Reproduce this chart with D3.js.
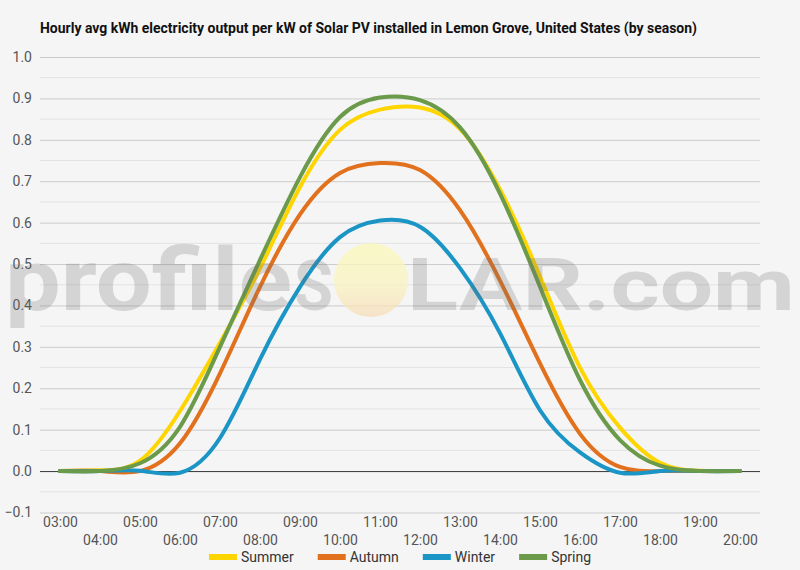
<!DOCTYPE html>
<html>
<head>
<meta charset="utf-8">
<script src="https://cdn.jsdelivr.net/npm/d3@7"></script>
<style>
  body { margin: 0; background: #f5f5f5; }
  svg { display: block; font-family: Roboto, "Noto Sans", sans-serif; }
</style>
</head>
<body>
<svg id="chart" width="800" height="570"></svg>
<script>
// hourly values
const hours = ['03:00', '04:00', '05:00', '06:00', '07:00', '08:00', '09:00', '10:00', '11:00',
  '12:00', '13:00', '14:00', '15:00', '16:00', '17:00', '18:00', '19:00', '20:00'];
const summer = [0, 0.002, 0.025, 0.145, 0.31, 0.49, 0.686, 0.824, 0.873, 0.878, 0.826, 0.68, 0.47, 0.25, 0.105, 0.02, 0.001, 0];
const autumn = [0, 0, 0, 0.067, 0.236, 0.445, 0.62, 0.72, 0.744, 0.727, 0.63, 0.46, 0.26, 0.09, 0.01, 0, 0, 0];
const winter = [0, 0, 0.001, -0.004, 0.08, 0.27, 0.445, 0.565, 0.605, 0.59, 0.49, 0.333, 0.147, 0.045, -0.004, 0, 0, 0];
const spring = [0, 0, 0.019, 0.107, 0.30, 0.51, 0.71, 0.855, 0.902, 0.896, 0.83, 0.67, 0.445, 0.22, 0.075, 0.013, 0, 0];
const series_names = ['Summer', 'Autumn', 'Winter', 'Spring'];
const series_colors = ['#ffd500', '#e2711d', '#1a95c6', '#6b9a4a'];
const y_ticks = [-0.1, 0, 0.1, 0.2, 0.3, 0.4, 0.5, 0.6, 0.7, 0.8, 0.9, 1.0];
const title = 'Hourly avg kWh electricity output per kW of Solar PV installed in Lemon Grove, United States (by season)';

const series_all = [summer, autumn, winter, spring];

let svg = d3.select('#chart');

svg.append('rect')
  .attr('width', 800).attr('height', 570)
  .style('fill', '#f5f5f5');

let x = d3.scalePoint().domain(hours).range([40, 760]).padding(0.5);
let y = d3.scaleLinear().domain([-0.1, 1.0]).range([512.5, 57]);

/*
 * Grid: major every 0.1, minor in between.
 */
let minor = y_ticks.slice(0, -1).map(v => v + 0.05);
svg.append('g')
  .selectAll('line')
  .data(minor)
  .join('line')
  .attr('x1', 40).attr('x2', 760)
  .attr('y1', d => y(d)).attr('y2', d => y(d))
  .style('stroke', '#e3e3e3')
  .style('stroke-width', 1);

let y_axis = svg.append('g')
  .attr('transform', 'translate(40,0)')
  .call(d3.axisLeft(y).tickValues(y_ticks).tickSize(-720).tickPadding(8)
    .tickFormat(d3.format('.1f')));
y_axis.select('.domain').remove();
y_axis.selectAll('.tick line')
  .style('stroke', d => Math.abs(d) < 1e-9 ? '#333' : '#cccccc')
  .style('stroke-width', 1);
y_axis.selectAll('.tick text')
  .attr('x', -8)
  .style('font-size', '14px')
  .style('font-family', 'Roboto, sans-serif')
  .style('fill', '#555');

/*
 * X axis labels, staggered on two rows.
 */
let x_axis = svg.append('g')
  .attr('transform', 'translate(0,512.5)')
  .call(d3.axisBottom(x).tickSize(0));
x_axis.select('.domain').remove();
x_axis.selectAll('.tick text')
  .attr('y', (d, i) => i % 2 == 0 ? 10 : 28)
  .attr('dy', '0.32em')
  .style('font-size', '14px')
  .style('font-family', 'Roboto, sans-serif')
  .style('fill', '#555');

/*
 * Series lines, natural cubic spline.
 */
let line = d3.line()
  .x((d, i) => x(hours[i]))
  .y(d => y(d))
  .curve(d3.curveNatural);

svg.append('g')
  .selectAll('path')
  .data(series_all)
  .join('path')
  .attr('d', d => line(d))
  .style('fill', 'none')
  .style('stroke', (d, i) => series_colors[i])
  .style('stroke-width', 4)
  .style('stroke-linejoin', 'round')
  .style('stroke-linecap', 'round');

/*
 * Watermark on top, semi transparent.
 */
let defs = svg.append('defs');
let grad = defs.append('linearGradient')
  .attr('id', 'sun').attr('x1', 0).attr('y1', 0).attr('x2', 0).attr('y2', 1);
grad.append('stop').attr('offset', '0%').attr('stop-color', '#fbf8b8');
grad.append('stop').attr('offset', '55%').attr('stop-color', '#faf3c0');
grad.append('stop').attr('offset', '100%').attr('stop-color', '#f6dcb8');

let wm = svg.append('g').style('pointer-events', 'none');
wm.append('circle')
  .attr('cx', 371).attr('cy', 280).attr('r', 37)
  .style('fill', 'url(#sun)')
  .style('opacity', 0.75);
wm.append('text')
  .attr('x', 5).attr('y', 310)
  .attr('textLength', 287).attr('lengthAdjust', 'spacingAndGlyphs')
  .style('font-size', '88px')
  .style('font-weight', 'bold')
  .style('font-family', 'Roboto, sans-serif')
  .style('fill', '#6e6e6e').style('opacity', 0.24)
  .text('profile');
wm.append('text')
  .attr('x', 294).attr('y', 310)
  .attr('textLength', 39).attr('lengthAdjust', 'spacingAndGlyphs')
  .style('font-size', '71px')
  .style('font-weight', 'bold')
  .style('font-family', 'Roboto, sans-serif')
  .style('fill', '#6e6e6e').style('opacity', 0.24)
  .text('S');
wm.append('text')
  .attr('x', 407).attr('y', 310)
  .attr('textLength', 388).attr('lengthAdjust', 'spacingAndGlyphs')
  .style('font-size', '72px')
  .style('font-weight', 'bold')
  .style('font-family', 'Roboto, sans-serif')
  .style('fill', '#6e6e6e').style('opacity', 0.24)
  .text('LAR.com');

/*
 * Title.
 */
svg.append('text')
  .attr('x', 40).attr('y', 33)
  .attr('textLength', 657).attr('lengthAdjust', 'spacingAndGlyphs')
  .style('font-size', '14px')
  .style('font-weight', 'bold')
  .style('font-family', 'Roboto, sans-serif')
  .style('fill', '#111')
  .text(title);

/*
 * Legend, centred under the plot.
 */
let legend = svg.append('g');
let lx = 0;
series_names.forEach((name, i) => {
  let item = legend.append('g').attr('transform', 'translate(' + lx + ',0)');
  item.append('rect')
    .attr('x', 0).attr('y', -3)
    .attr('width', 28).attr('height', 6)
    .style('fill', series_colors[i]);
  let t = item.append('text')
    .attr('x', 32).attr('dy', '0.35em')
    .style('font-size', '14px')
    .style('font-family', 'Roboto, sans-serif')
    .style('fill', '#333')
    .text(name);
  lx += 32 + t.node().getComputedTextLength() + 24;
});
let lw = lx - 24;
legend.attr('transform', 'translate(' + (400 - lw / 2) + ',557)');
</script>
</body>
</html>
